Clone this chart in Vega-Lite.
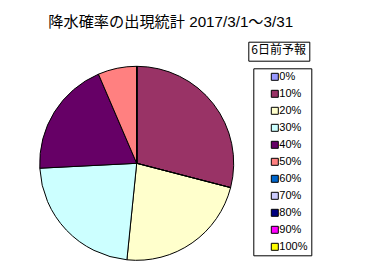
{
  "$schema": "https://vega.github.io/schema/vega-lite/v6.json",
  "autosize": "none",
  "width": 194,
  "height": 194,
  "padding": {"left": 39.7, "top": 66.3, "right": 132.3, "bottom": 9.7},
  "background": "white",
  "config": {"view": {"stroke": null}},
  "title": {
    "text": "降水確率の出現統計 2017/3/1～3/31",
    "anchor": "start",
    "frame": "group",
    "dx": 8.6,
    "dy": 3,
    "offset": 14,
    "font": "Liberation Sans, Noto Sans CJK JP",
    "fontSize": 15.2,
    "fontWeight": "normal",
    "color": "black"
  },
  "data": {
    "values": [
      {"prob": "0%", "days": 0},
      {"prob": "10%", "days": 9},
      {"prob": "20%", "days": 7},
      {"prob": "30%", "days": 7},
      {"prob": "40%", "days": 6},
      {"prob": "50%", "days": 2},
      {"prob": "60%", "days": 0},
      {"prob": "70%", "days": 0},
      {"prob": "80%", "days": 0},
      {"prob": "90%", "days": 0},
      {"prob": "100%", "days": 0}
    ]
  },
  "mark": {"type": "arc", "stroke": "black", "strokeWidth": 1},
  "encoding": {
    "theta": {"field": "days", "type": "quantitative", "stack": true},
    "color": {
      "field": "prob",
      "type": "nominal",
      "scale": {
        "domain": ["0%", "10%", "20%", "30%", "40%", "50%", "60%", "70%", "80%", "90%", "100%"],
        "range": ["#9999FF", "#993366", "#FFFFCC", "#CCFFFF", "#660066", "#FF8080", "#0066CC", "#CCCCFF", "#000080", "#FF00FF", "#FFFF00"]
      },
      "legend": {
        "title": null,
        "orient": "none",
        "legendX": 213.6,
        "legendY": 2,
        "strokeColor": "black",
        "fillColor": "white",
        "padding": 3,
        "symbolType": "square",
        "symbolSize": 49,
        "symbolStrokeColor": "black",
        "symbolStrokeWidth": 1,
        "symbolOffset": 13,
        "labelOffset": -1,
        "labelFont": "Liberation Sans",
        "labelFontSize": 11,
        "labelColor": "black",
        "rowPadding": 5,
        "labelExpr": "datum.label + '\u00a0\u00a0\u00a0\u00a0\u00a0\u00a0\u00a0\u00a0\u00a0\u00a0\u00a0\u00a0\u00a0\u00a0\u00a0'"
      }
    },
    "opacity": {
      "datum": "6日前予報",
      "type": "nominal",
      "scale": {"range": [1]},
      "legend": {
        "title": "6日前予報",
        "orient": "none",
        "legendX": 208.6,
        "legendY": -24.6,
        "strokeColor": "black",
        "fillColor": "white",
        "padding": 3,
        "titleFont": "Noto Sans CJK JP",
        "titleFontSize": 12,
        "titleFontWeight": "normal",
        "titleColor": "black",
        "titlePadding": 0,
        "symbolSize": 0,
        "symbolOpacity": 0,
        "labelFontSize": 0,
        "clipHeight": 0.1,
        "labelExpr": "''",
        "rowPadding": 0
      }
    }
  }
}
